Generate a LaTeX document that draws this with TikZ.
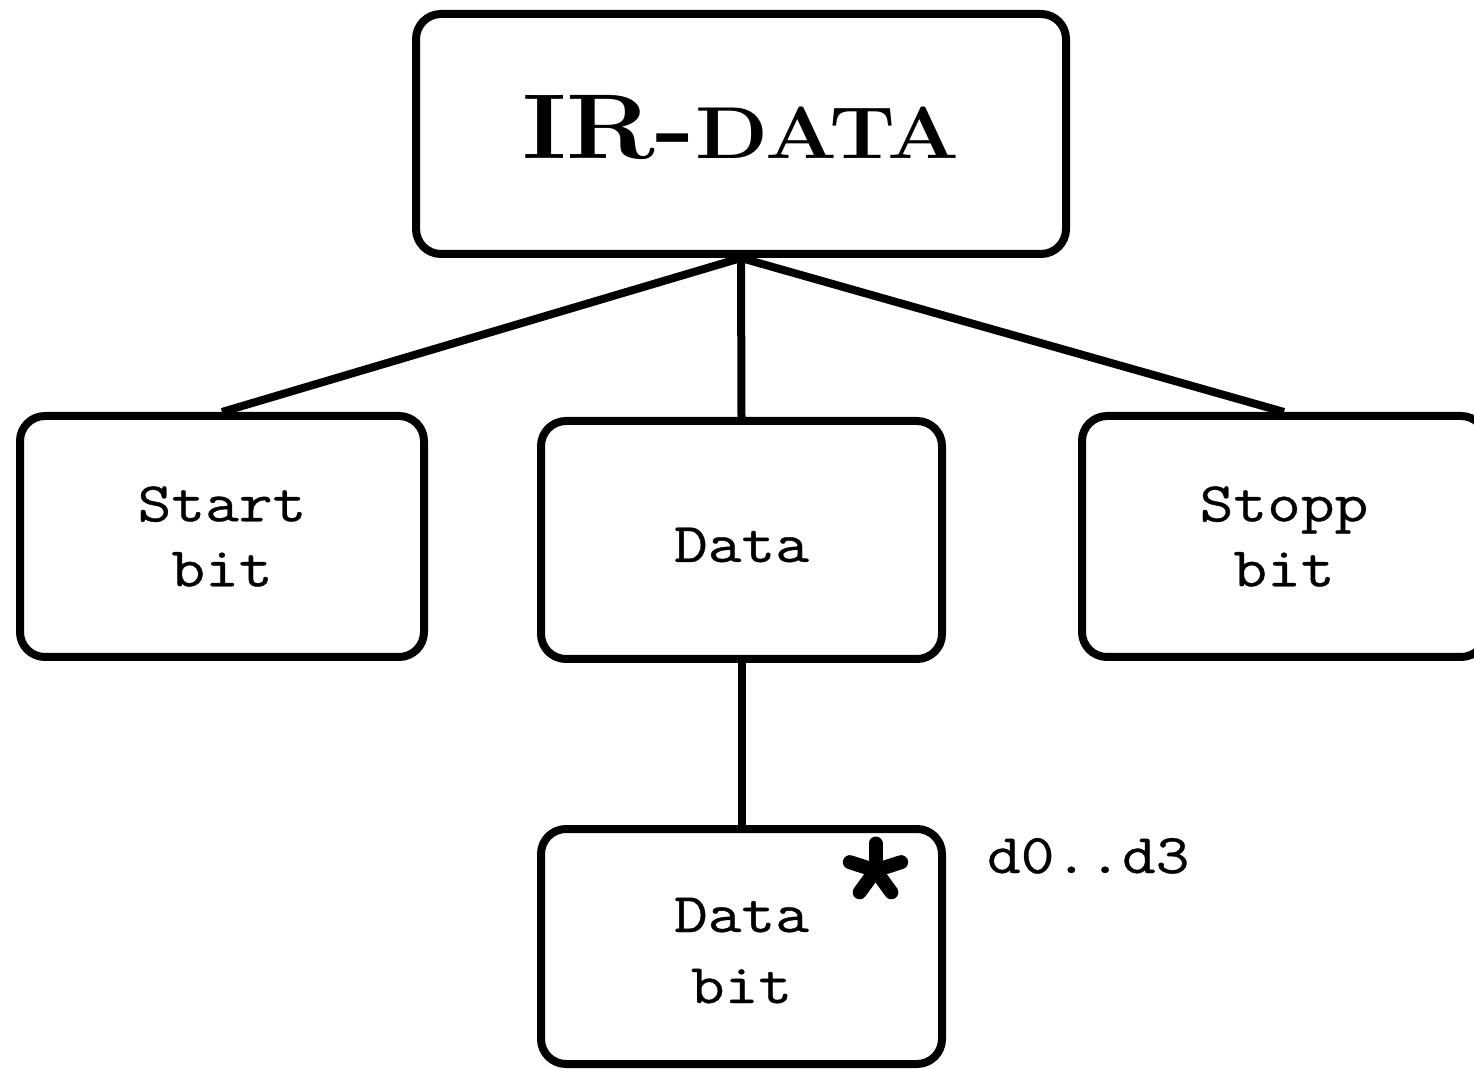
\documentclass[tikz,border=0pt]{standalone}
\usepackage{fontspec}
\newfontfamily\monofont{Latin Modern Mono}[FakeStretch=1.17,FakeBold=0.6]
\newfontfamily\titlefont{Latin Modern Roman}[FakeStretch=1.15]
% move a label inside its box without changing the box's size
\newcommand{\shiftlabel}[2]{\raisebox{#1}[\height][\depth]{#2}}
\begin{document}
\begin{tikzpicture}[x=0.5pt,y=-0.5pt,line width=4pt,
  box/.style={draw,rounded corners=12.5pt,inner sep=0pt,align=center,
    font=\monofont\fontsize{28}{32.5}\selectfont},
  link/.style={draw,line width=4pt},
  arm/.style={line width=7pt,line cap=round}]
\useasboundingbox (0,0) rectangle (1474,1069);

% top box
\node[box,minimum width=325pt,minimum height=120pt] (ir) at (741,134)
  {\shiftlabel{3.25pt}{\titlefont\bfseries\fontsize{46}{48}\selectfont IR-{\fontsize{36.8}{40}\selectfont DATA}}};

% second row
\node[box,minimum width=202pt,minimum height=120.5pt] (start) at (222,536.5) {Start\\bit};
\node[box,minimum width=200.5pt,minimum height=119pt] (data) at (741.5,540) {\shiftlabel{-2.5pt}{Data}};
\node[box,minimum width=202pt,minimum height=120.5pt] (stopp) at (1284,536.5) {Stopp\\bit};

% repeated child
\node[box,minimum width=200.5pt,minimum height=117.5pt] (databit) at (741.5,946.5)
  {\shiftlabel{-4pt}{\begin{tabular}{@{}c@{}}Data\\[3pt]bit\end{tabular}}};

% connectors
\draw[link] (ir.south) -- (start.north);
\draw[link] (ir.south) -- (data.north);
\draw[link] (ir.south) -- (stopp.north);
\draw[link] (data.south) -- (databit.north);

% repetition marker (y axis points down, so angles are mirrored)
\coordinate (star) at (875.5,870.5);
\foreach \a in {-90,-18,-162,-234,-306}
  \draw[arm] (star) -- ++(\a:27);
\node[anchor=base west,inner sep=0pt,font=\monofont\fontsize{28}{32.5}\selectfont] (range) at (983,873) {d0..d3};
\end{tikzpicture}
\end{document}
